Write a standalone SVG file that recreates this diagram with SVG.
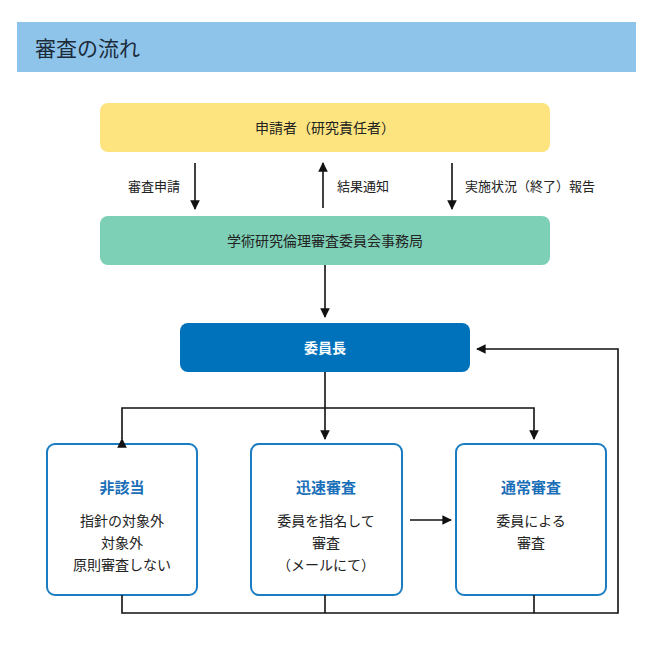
<svg xmlns="http://www.w3.org/2000/svg" width="650" height="650" viewBox="0 0 650 650">
<defs>
<style>
text{font-family:"Noto Sans CJK JP","Noto Sans",sans-serif;}
.t{font-size:14px;fill:#222;text-anchor:middle;}
.l{font-size:13px;fill:#222;}
.h{font-size:15px;font-weight:bold;fill:#1a6fb8;text-anchor:middle;}
.c{stroke:#111;stroke-width:1.6;fill:none;}
.ob{fill:#fff;stroke:#1a7cc1;stroke-width:2;}
</style>
<marker id="a" viewBox="0 0 10 10" refX="9" refY="5" markerWidth="6" markerHeight="6" orient="auto"><path d="M0,0L10,5L0,10z" fill="#111"/></marker>
</defs>
<rect width="650" height="650" fill="#fff"/>
<rect x="17" y="22" width="619" height="50" fill="#8ec4ea"/>
<text x="35" y="56" style="font-size:21px;fill:#1c2b3a">審査の流れ</text>
<g id="n1"><rect x="100" y="103" width="450" height="49" rx="8" fill="#fde47f"/><text class="t" x="325" y="133">申請者（研究責任者）</text></g>
<g id="n2"><rect x="100" y="216" width="450" height="49" rx="8" fill="#7dcfb6"/><text class="t" x="325" y="246">学術研究倫理審査委員会事務局</text></g>
<g id="n3"><rect x="180" y="323" width="290" height="49" rx="8" fill="#0072bc"/><text class="t" x="325" y="353" style="fill:#fff;font-weight:bold">委員長</text></g>
<g id="n4"><rect class="ob" x="47" y="444" width="150" height="151" rx="8"/><text class="h" x="122" y="493">非該当</text><text class="t" x="122" y="526">指針の対象外</text><text class="t" x="122" y="548">対象外</text><text class="t" x="122" y="570">原則審査しない</text></g>
<g id="n5"><rect class="ob" x="251" y="444" width="151" height="151" rx="8"/><text class="h" x="326" y="493">迅速審査</text><text class="t" x="326" y="526">委員を指名して</text><text class="t" x="326" y="548">審査</text><text class="t" x="326" y="570">（メールにて）</text></g>
<g id="n6"><rect class="ob" x="456" y="444" width="150" height="151" rx="8"/><text class="h" x="531" y="493">通常審査</text><text class="t" x="531" y="526">委員による</text><text class="t" x="531" y="548">審査</text></g>
<g id="connectors">
<line class="c" x1="195" y1="163" x2="195" y2="209" marker-end="url(#a)"/>
<line class="c" x1="323" y1="208" x2="323" y2="163" marker-end="url(#a)"/>
<line class="c" x1="452" y1="163" x2="452" y2="209" marker-end="url(#a)"/>
<text class="l" x="180" y="191" text-anchor="end">審査申請</text>
<text class="l" x="337" y="191">結果通知</text>
<text class="l" x="465" y="191">実施状況（終了）報告</text>
<line class="c" x1="325" y1="265" x2="325" y2="317" marker-end="url(#a)"/>
<line class="c" x1="325" y1="372" x2="325" y2="439" marker-end="url(#a)"/>
<polyline class="c" points="122,439 122,408 534,408 534,439" marker-start="url(#a)" marker-end="url(#a)"/>
<line class="c" x1="410" y1="520" x2="451" y2="520" marker-end="url(#a)"/>
<polyline class="c" points="122,595 122,613 618,613 618,349 477,349" marker-end="url(#a)"/>
<line class="c" x1="325" y1="595" x2="325" y2="613"/>
<line class="c" x1="534" y1="595" x2="534" y2="613"/>
</g>
</svg>
